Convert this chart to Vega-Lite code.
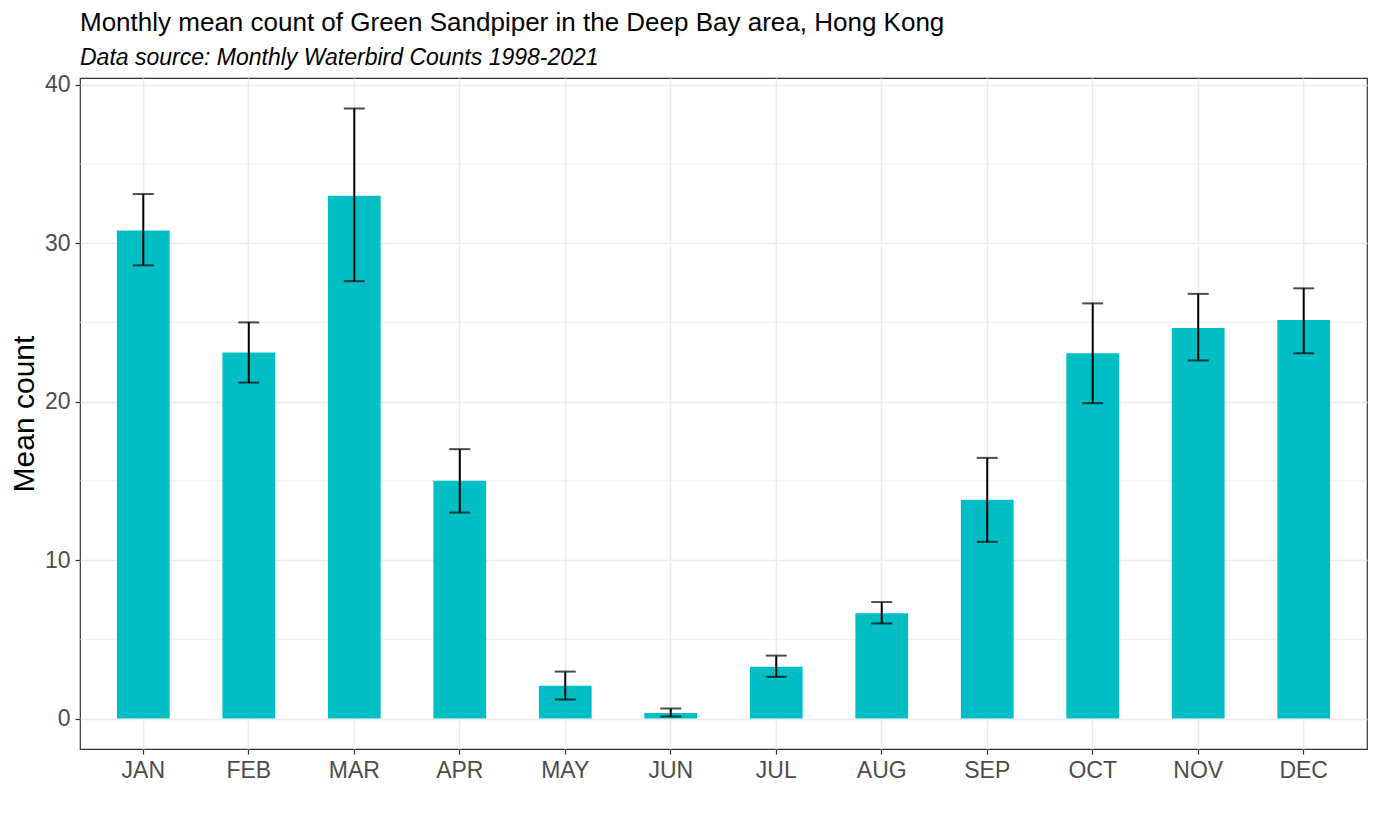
{
  "$schema": "https://vega.github.io/schema/vega-lite/v6.json",
  "autosize": "none",
  "width": 1287,
  "height": 671,
  "padding": {"left": 80, "top": 78, "right": 11, "bottom": 78},
  "background": "white",
  "title": {
    "text": "Monthly mean count of Green Sandpiper in the Deep Bay area, Hong Kong",
    "subtitle": "Data source: Monthly Waterbird Counts 1998-2021",
    "anchor": "start",
    "frame": "group",
    "font": "Liberation Sans",
    "fontSize": 26,
    "fontWeight": "normal",
    "color": "black",
    "subtitleFont": "Liberation Sans",
    "subtitleFontSize": 23,
    "subtitleFontStyle": "italic",
    "subtitleColor": "black",
    "subtitlePadding": 11,
    "offset": 4
  },
  "config": {
    "view": {"stroke": "#333333", "strokeWidth": 1.2},
    "axis": {
      "labelFont": "Liberation Sans",
      "titleFont": "Liberation Sans",
      "labelFontSize": 23,
      "labelColor": "#4D4D4D",
      "tickColor": "#333333",
      "tickSize": 5,
      "tickWidth": 1.2,
      "domain": false,
      "gridColor": "#EBEBEB",
      "gridWidth": 1.6
    }
  },
  "datasets": {
    "counts": [
      {"month": "JAN", "mean": 30.8, "lo": 28.6, "hi": 33.1},
      {"month": "FEB", "mean": 23.1, "lo": 21.2, "hi": 25.0},
      {"month": "MAR", "mean": 33.0, "lo": 27.6, "hi": 38.5},
      {"month": "APR", "mean": 15.0, "lo": 13.0, "hi": 17.0},
      {"month": "MAY", "mean": 2.06, "lo": 1.2, "hi": 2.96},
      {"month": "JUN", "mean": 0.34, "lo": 0.13, "hi": 0.63},
      {"month": "JUL", "mean": 3.27, "lo": 2.63, "hi": 3.97},
      {"month": "AUG", "mean": 6.65, "lo": 6.0, "hi": 7.35},
      {"month": "SEP", "mean": 13.8, "lo": 11.15, "hi": 16.45},
      {"month": "OCT", "mean": 23.05, "lo": 19.9, "hi": 26.2},
      {"month": "NOV", "mean": 24.65, "lo": 22.6, "hi": 26.8},
      {"month": "DEC", "mean": 25.15, "lo": 23.05, "hi": 27.15}
    ],
    "minor": [{"v": 5}, {"v": 15}, {"v": 25}, {"v": 35}]
  },
  "data": {"name": "counts"},
  "encoding": {
    "x": {
      "field": "month",
      "type": "nominal",
      "sort": null,
      "scale": {"paddingInner": 0.5, "paddingOuter": 0.35},
      "axis": {
        "title": null,
        "labelAngle": 0,
        "labelPadding": 5,
        "grid": true,
        "bandPosition": 0.5
      }
    }
  },
  "layer": [
    {
      "data": {"name": "minor"},
      "mark": {"type": "rule", "color": "#EBEBEB", "strokeWidth": 0.8},
      "encoding": {
        "x": null,
        "y": {"field": "v", "type": "quantitative"}
      }
    },
    {
      "mark": {"type": "bar", "color": "#00BFC4"},
      "encoding": {
        "y": {
          "field": "mean",
          "type": "quantitative",
          "scale": {"domain": [-1.925, 40.425], "nice": false, "zero": false},
          "axis": {
            "title": "Mean count",
            "titleFontSize": 30,
            "titleFontWeight": "normal",
            "titleColor": "black",
            "titlePadding": 5,
            "values": [0, 10, 20, 30, 40],
            "labelPadding": 5
          }
        }
      }
    },
    {
      "mark": {"type": "rule", "color": "black", "strokeWidth": 2},
      "encoding": {
        "y": {"field": "lo", "type": "quantitative"},
        "y2": {"field": "hi"}
      }
    },
    {
      "mark": {"type": "tick", "color": "black", "size": 21, "thickness": 2, "orient": "horizontal"},
      "encoding": {"y": {"field": "lo", "type": "quantitative"}}
    },
    {
      "mark": {"type": "tick", "color": "black", "size": 21, "thickness": 2, "orient": "horizontal"},
      "encoding": {"y": {"field": "hi", "type": "quantitative"}}
    }
  ]
}
